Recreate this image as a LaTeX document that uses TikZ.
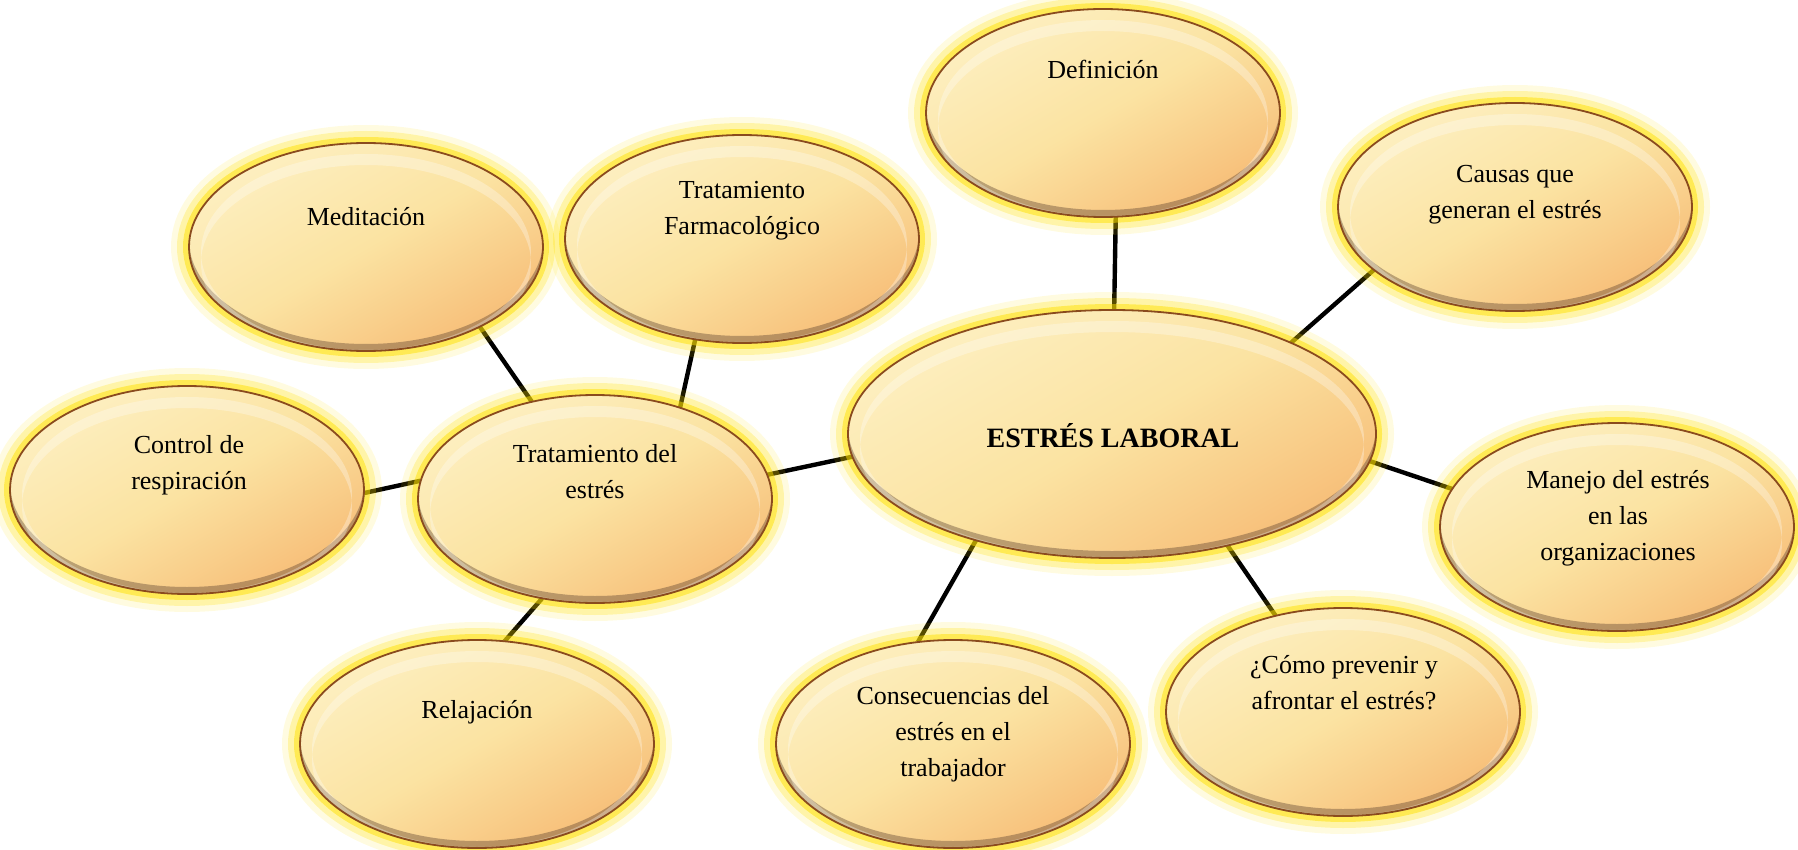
\documentclass[tikz,border=0pt]{standalone}
\usepackage{fontspec}
\setmainfont{Liberation Serif}
\usetikzlibrary{shapes.geometric,calc}
\pgfdeclarelayer{bg}
\pgfsetlayers{bg,main}
\definecolor{glowc}{HTML}{FFE000}
\definecolor{rimc}{HTML}{8A4B1E}
\definecolor{lightc}{HTML}{FDEFC0}
\definecolor{midc}{HTML}{FBE3A2}
\definecolor{darkc}{HTML}{F7BE78}
\definecolor{shadec}{HTML}{5A4030}
\tikzset{
  bubble/.style={ellipse, minimum width=177pt, minimum height=104pt, inner sep=0pt, outer sep=0pt,
    draw=rimc, line width=0.9pt,
    top color=lightc, bottom color=darkc, middle color=midc, shading angle=30,
    preaction={draw=glowc, line width=18pt, draw opacity=0.12},
    preaction={draw=glowc, line width=12pt, draw opacity=0.25},
    preaction={draw=glowc, line width=6pt, draw opacity=0.5},
    path picture={
      \coordinate (pc) at (path picture bounding box.center);
      \fill[shadec, opacity=0.4, even odd rule]
        let \p1=($(path picture bounding box.north east)-(pc)$) in
        (pc) ellipse [x radius=\x1, y radius=\y1]
        ([yshift=3.5pt]pc) ellipse [x radius=\x1, y radius=\y1];
      \fill[white, opacity=0.3, even odd rule]
        let \p1=($(path picture bounding box.north east)-(pc)$) in
        ([yshift=-2.5pt]pc) ellipse [x radius=\x1-6pt, y radius=\y1-3pt]
        ([yshift=-8pt]pc) ellipse [x radius=\x1-6pt, y radius=\y1-3pt];
    }},
  bigbubble/.style={bubble, minimum width=264pt, minimum height=124pt},
  lbl/.style={align=center, font=\fontsize{13pt}{18pt}\selectfont, inner sep=0pt, text=black},
  link/.style={line width=2.2pt, draw=black},
}
\begin{document}
\begin{tikzpicture}[x=0.5pt, y=-0.5pt]
\useasboundingbox (0,0) rectangle (1798,850);
% bubbles
\node[bubble] (def) at (1103,113) {};
\node[bubble] (cau) at (1515,207) {};
\node[bubble] (med) at (366,247) {};
\node[bubble] (far) at (742,239) {};
\node[bubble] (ctl) at (187,490) {};
\node[bubble] (tra) at (595,499) {};
\node[bigbubble] (est) at (1112,434) {};
\node[bubble] (man) at (1617,527) {};
\node[bubble] (com) at (1343,712) {};
\node[bubble] (rel) at (477,744) {};
\node[bubble] (con) at (953,744) {};
% labels
\node[lbl] (tdef) at (1103,69) {Definición};
\node[lbl] (tcau) at (1515,195) {Causas que\\generan el estrés};
\node[lbl] (tmed) at (366,217) {Meditación};
\node[lbl] (tfar) at (742,211) {Tratamiento\\Farmacológico};
\node[lbl] (tctl) at (189,465) {Control de\\respiración};
\node[lbl] (ttra) at (595,472) {Tratamiento del\\estrés};
\node[lbl, font=\fontsize{14pt}{18pt}\selectfont\bfseries] (test) at (1113,436) {ESTRÉS LABORAL};
\node[lbl] (tman) at (1618,518) {Manejo del estrés\\en las\\organizaciones};
\node[lbl] (tcom) at (1344,683) {¿Cómo prevenir y\\afrontar el estrés?};
\node[lbl] (trel) at (477,712) {Relajación};
\node[lbl] (tcon) at (953,734) {Consecuencias del\\estrés en el\\trabajador};
% connectors
\begin{pgfonlayer}{bg}
\draw[link] (def.-83) -- (est.89);
\draw[link] (cau.204) -- (est.27);
\draw[link] (man.167) -- (est.-6.5);
\draw[link] (com.125) -- (est.-44);
\draw[link] (con.109) -- (est.218);
\draw[link] (tra.8) -- (est.185);
\draw[link] (med.-35.5) -- (tra.123);
\draw[link] (far.-115.5) -- (tra.47);
\draw[link] (ctl.-1) -- (tra.174);
\draw[link] (rel.75) -- (tra.-118);
\end{pgfonlayer}
\end{tikzpicture}
\end{document}
